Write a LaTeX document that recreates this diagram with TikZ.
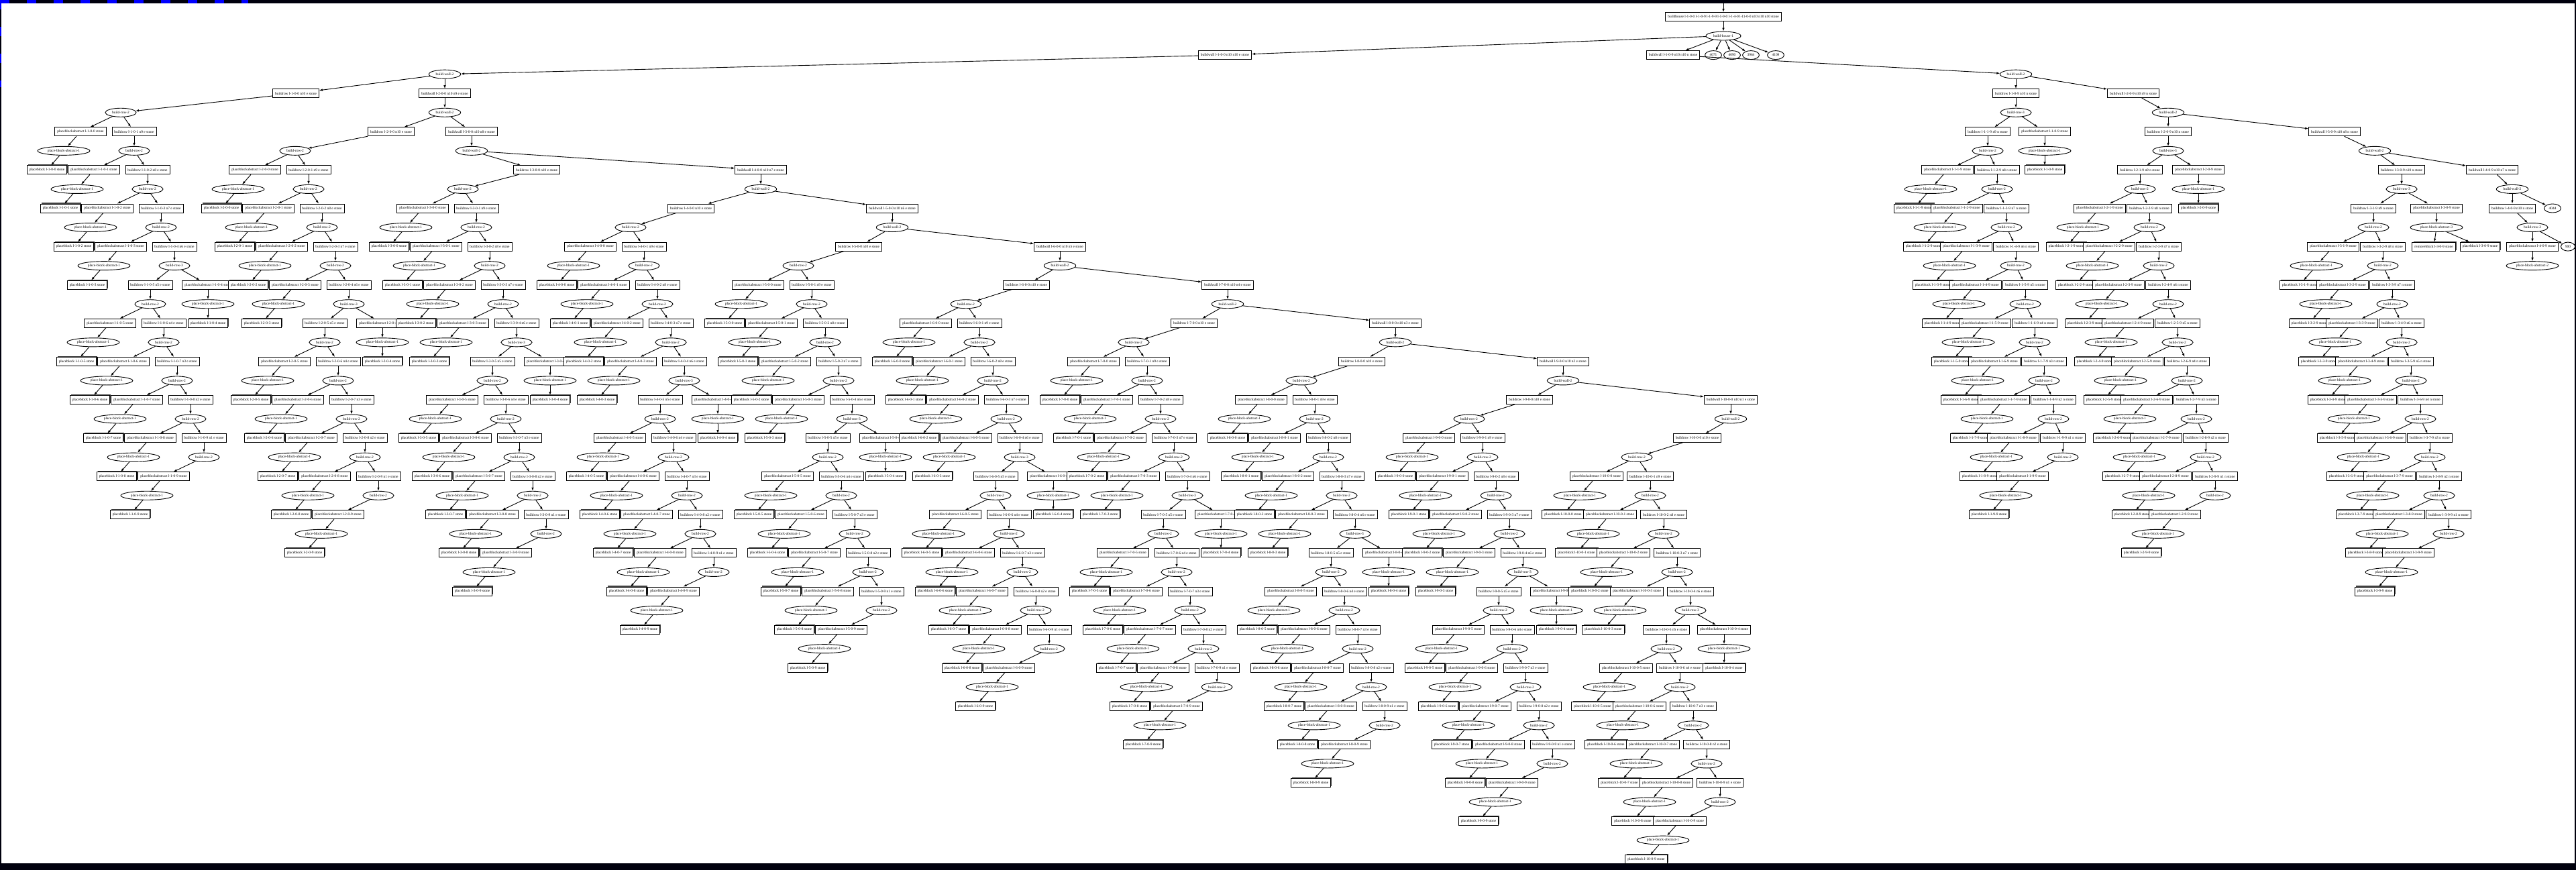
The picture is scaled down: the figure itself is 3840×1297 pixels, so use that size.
\documentclass[tikz,border=0pt]{standalone}
\usepackage{fontspec}
\setmainfont{Liberation Serif}
\usetikzlibrary{shapes.geometric,arrows.meta,shadows}
\newcommand\tf{\fontsize{5.4}{6}\selectfont}
\newcommand\LY[1]{25+28.55*(#1)}
\tikzset{
 box/.style={draw, rectangle, line width=0.9pt, inner xsep=3.5pt, inner ysep=0pt, minimum height=13pt, font=\tf, fill=white},
 blk/.style={box, general shadow={fill=black!75, shadow xshift=1.6pt, shadow yshift=1.6pt}},
 ell/.style={draw, ellipse, line width=0.9pt, inner xsep=3.4pt, inner ysep=0pt, minimum height=13pt, font=\tf, fill=white},
 arr/.style={-{Latex[length=5pt,width=3.6pt]}, line width=0.9pt},
}
\def\flipk{5}\def\firstvar{0}\def\flipoff{50}
% row chain: #1 id, #2 x0, #3 level of first buildrow, #4 n, #5 pre, #6 suf, #7 dir, #8 drift, #9 side
\newcommand\RC[9]{%
  \foreach \k in {1,...,#4}{%
    \pgfmathsetmacro\xk{#2+(\k-1)*#8-56*(\k>\flipk)}%
    \pgfmathsetmacro\yk{25+28.55*(#3+2*(\k-1))}%
    \pgfmathtruncatemacro\j{\k-1}%
    \pgfmathtruncatemacro\m{#4-\k+1}%
    \ifnum\k=1 \let\xb\firstx\else \let\xb\xk\fi
    \node[box] (#1b\k) at (\xb,\yk) {buildrow #5\j#6 n\m\ #7 stone};
    \ifnum\k=\flipk
      \pgfmathsetmacro\xp{\xk+\flipoff}%
      \node[ell] (#1r\k) at (\xk,\yk+28.55) {build-row-3};
      \node[box] (#1p\k) at (\xp,\yk+57.1) {placeblockabstract #5\j#6 stone};
      \ifnum\firstvar=2
        \pgfmathsetmacro\xs{\xp+65}%
        \node[ell] (#1a\k) at (\xp,\yk+85.65) {place-block-abstract-3};
        \node[blk] (#1q\k) at (\xp-4,\yk+114.2) {removeblock #5\j#6 stone};
        \node[blk] (#1s\k) at (\xs,\yk+114.2) {placeblock #5\j#6 stone};
        \draw[arr] (#1a\k) -- (#1s\k);
      \else
        \node[ell] (#1a\k) at (\xp,\yk+85.65) {place-block-abstract-1};
        \node[blk] (#1q\k) at (\xp,\yk+114.2) {placeblock #5\j#6 stone};
      \fi
    \else
      \pgfmathsetmacro\xp{\xk+(#9)*60}%
      \pgfmathsetmacro\xa{\xk+(#9)*85}%
      \pgfmathsetmacro\xq{\xk+(#9)*110}%
      \node[ell] (#1r\k) at (\xk,\yk+28.55) {build-row-2};
      \node[box] (#1p\k) at (\xp,\yk+57.1) {placeblockabstract #5\j#6 stone};
      \node[ell] (#1a\k) at (\xa,\yk+85.65) {place-block-abstract-1};
      \node[blk] (#1q\k) at (\xq,\yk+114.2) {placeblock #5\j#6 stone};
    \fi
    \draw[arr] (#1b\k) -- (#1r\k);
    \draw[arr] (#1r\k) -- (#1p\k);
    \draw[arr] (#1p\k) -- (#1a\k);
    \draw[arr] (#1a\k) -- (#1q\k);
    \ifnum\k>1 \pgfmathtruncatemacro\kp{\k-1}\draw[arr] (#1r\kp) -- (#1b\k);\fi
  }}
\begin{document}
\begin{tikzpicture}[x=1pt,y=-1pt]
\useasboundingbox (0,0) rectangle (3840,1297);
\fill[white] (0,0) rectangle (3840,1297);
% frame
\fill[black!95!blue] (0,0) rectangle (3840,5);
\fill[black!95!blue] (0,1287) rectangle (3840,1297);
\fill[black!95!blue] (0,0) rectangle (2,1297);
\fill[black!95!blue] (3838,0) rectangle (3840,1297);
\draw[blue, line width=5pt, dash pattern=on 14pt off 26pt] (0,2.5) -- (370,2.5);
\draw[blue, line width=2pt, dash pattern=on 14pt off 26pt] (1,0) -- (1,130);
% top
\coordinate (top) at (2569,5);
\node[box] (root) at (2569,{\LY{0}}) {buildhouse l-1-0-0 l-1-0-9 l-1-9-9 l-1-9-0 l-1-4-0 l-11-0-0 n10 n10 n10 stone};
\draw[arr] (top) -- (root);
\node[ell] (bh) at (2569,{\LY{1}}) {build-house-1};
\draw[arr] (root) -- (bh);
\node[box] (lw1) at (1826,{\LY{2}}) {buildwall l-1-0-0 n10 n10 e stone};
\node[box] (rw1) at (2494,{\LY{2}}) {buildwall l-1-0-9 n10 n10 n stone};
\node[ell] (x1) at (2554,{\LY{2}}) {4071};
\node[ell] (x2) at (2582,{\LY{2}}) {4090};
\node[ell] (x3) at (2610,{\LY{2}}) {3964};
\node[ell] (x4) at (2647,{\LY{2}}) {4109};
\foreach \t in {lw1,rw1,x1,x2,x3,x4} \draw[arr] (bh) -- (\t);
% left walls
\node[ell] (lv1) at (663,{\LY{3}}) {build-wall-2};
\draw[arr] (lw1) -- (lv1);
\foreach \w/\x in {2/663,3/703,4/1134,5/1330,6/1580,7/1830,8/2080,9/2330,10/2580}{
  \pgfmathtruncatemacro\nn{11-\w}
  \pgfmathtruncatemacro\wp{\w-1}
  \node[box] (lw\w) at (\x,{\LY{2*\w}}) {buildwall l-\w-0-0 n10 n\nn\ e stone};
  \node[ell] (lv\w) at (\x,{\LY{2*\w+1}}) {build-wall-2};
  \draw[arr] (lv\wp) -- (lw\w);
  \draw[arr] (lw\w) -- (lv\w);
}
\def\flipk{5}
\def\firstx{441}\RC{ca}{180}{4}{10}{l-1-0-}{}{e}{20}{-1}
\def\firstx{583}\RC{cb}{440}{6}{10}{l-2-0-}{}{e}{20}{-1}
\def\firstx{800}\RC{cc}{690}{8}{10}{l-3-0-}{}{e}{20}{-1}
\def\firstx{1030}\RC{cd}{940}{10}{10}{l-4-0-}{}{e}{20}{-1}
\def\firstx{1280}\RC{ce}{1190}{12}{10}{l-5-0-}{}{e}{20}{-1}
\def\firstx{1530}\RC{cf}{1440}{14}{10}{l-6-0-}{}{e}{20}{-1}
\def\firstx{1780}\RC{cg}{1690}{16}{10}{l-7-0-}{}{e}{20}{-1}
\def\firstx{2030}\RC{ch}{1940}{18}{10}{l-8-0-}{}{e}{20}{-1}
\def\firstx{2280}\RC{ci}{2190}{20}{10}{l-9-0-}{}{e}{20}{-1}
\def\firstx{2530}\RC{cj}{2440}{22}{10}{l-10-0-}{}{e}{20}{-1}
\draw[arr] (lv1) -- (cab1);
\draw[arr] (lv2) -- (cbb1);
\draw[arr] (lv3) -- (ccb1);
\draw[arr] (lv4) -- (cdb1);
\draw[arr] (lv5) -- (ceb1);
\draw[arr] (lv6) -- (cfb1);
\draw[arr] (lv7) -- (cgb1);
\draw[arr] (lv8) -- (chb1);
\draw[arr] (lv9) -- (cib1);
\draw[arr] (lv10) -- (cjb1);
% right walls
\node[ell] (rv1) at (3005,{\LY{3}}) {build-wall-2};
\node[box] (rw2) at (3180,{\LY{4}}) {buildwall l-2-0-9 n10 n9 n stone};
\node[ell] (rv2) at (3232,{\LY{5}}) {build-wall-2};
\node[box] (rw3) at (3480,{\LY{6}}) {buildwall l-3-0-9 n10 n8 n stone};
\node[ell] (rv3) at (3540,{\LY{7}}) {build-wall-2};
\node[box] (rw4) at (3715,{\LY{8}}) {buildwall l-4-0-9 n10 n7 n stone};
\node[ell] (rv4) at (3745,{\LY{9}}) {build-wall-2};
\node[ell] (y1) at (3805,{\LY{10}}) {4044};
\node[box] (rr4) at (3745,{\LY{10}}) {buildrow l-4-0-9 n10 n stone};
\node[ell] (rr4e) at (3775,{\LY{11}}) {build-row-2};
\node[ell] (y2) at (3828,{\LY{12}}) {900};
\node[box] (rp4) at (3775,{\LY{12}}) {placeblockabstract l-4-0-9 stone};
\node[ell] (ra4) at (3775,{\LY{13}}) {place-block-abstract-2};
\draw[arr] (rw1) -- (rv1);
\draw[arr] (rv1) -- (rw2);
\draw[arr] (rw2) -- (rv2);
\draw[arr] (rv2) -- (rw3);
\draw[arr] (rw3) -- (rv3);
\draw[arr] (rv3) -- (rw4);
\draw[arr] (rw4) -- (rv4);
\draw[arr] (rv4) -- (rr4);
\draw[arr] (rv4) -- (y1);
\draw[arr] (rr4) -- (rr4e);
\draw[arr] (rr4e) -- (rp4);
\draw[arr] (rr4e) -- (y2);
\draw[arr] (rp4) -- (ra4);
\def\flipk{1}
\def\flipoff{43}\def\firstvar{1}
\def\firstx{3005}\RC{da}{3005}{4}{10}{l-1-}{-9}{n}{14}{-1}
\def\flipoff{45}
\def\firstx{3232}\RC{db}{3232}{6}{10}{l-2-}{-9}{n}{14}{-1}
\def\flipoff{52}\def\firstvar{2}
\def\firstx{3580}\RC{dc}{3580}{8}{10}{l-3-}{-9}{n}{14}{-1}
\draw[arr] (rv1) -- (dab1);
\draw[arr] (rv2) -- (dbb1);
\draw[arr] (rv3) -- (dcb1);
\end{tikzpicture}
\end{document}
